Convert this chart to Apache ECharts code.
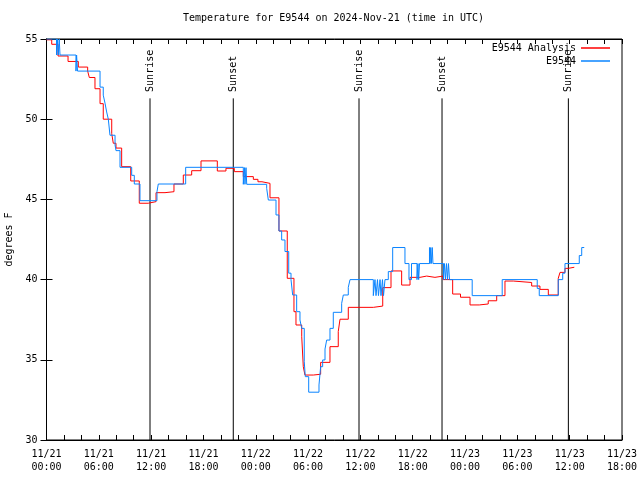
<!DOCTYPE html>
<html>
<head>
<meta charset="utf-8">
<script src="https://cdn.jsdelivr.net/npm/echarts@6/dist/echarts.min.js"></script>
<style>html,body{margin:0;padding:0;background:#fff}#c{width:640px;height:480px}</style>
</head>
<body>
<div id="c"></div>
<script>
// Hours since 2024-11-21 00:00 UTC, temperature in degrees F (step data)
const analysisData = [
  [0.00,54.95],[0.60,54.67],[1.32,53.94],[2.47,53.6],[3.65,53.25],[4.72,53.0],[4.91,52.6],[5.56,51.9],
  [6.14,50.97],[6.51,50.0],[7.48,49.1],[7.66,48.5],[7.97,48.2],[8.62,47.04],[9.66,46.15],[10.64,44.76],
  [11.67,44.86],[12.56,45.42],[13.59,45.48],[14.62,45.96],[15.69,46.52],[16.65,46.79],[17.72,47.4],
  [19.59,46.77],[20.58,46.94],[21.54,46.73],[22.57,46.42],[23.72,46.25],[24.25,46.1],[24.71,46.0],
  [25.63,45.1],[26.66,43.03],[27.61,40.08],[28.38,38.0],[28.61,37.17],[29.27,36.44],[29.45,34.57],
  [29.64,34.05],[30.60,34.1],[31.44,34.84],[32.51,35.82],[33.46,36.76],[33.66,37.53],[34.61,38.27],
  [37.48,38.35],[38.56,39.5],[39.51,40.54],[40.73,39.66],[41.69,40.14],[42.83,40.22],[43.60,40.14],
  [44.55,40.22],[45.47,40.0],[46.58,39.1],[47.48,38.9],[48.57,38.42],[49.63,38.48],[50.66,38.68],
  [51.63,39.0],[52.58,39.91],[53.53,39.82],[55.64,39.6],[56.59,39.39],[57.55,39.04],[58.69,40.08],
  [58.89,40.45],[59.46,40.7],[59.84,40.77],[60.53,40.77]
];
const observedData = [
  [0.00,55.0],[1.15,54.0],[1.24,55.0],[1.35,54.0],[1.46,55.0],[1.55,54.0],[3.38,53.0],[3.45,54.0],
  [3.56,53.0],[6.14,52.0],[6.51,51.5],[6.71,51.0],[6.90,50.45],[7.09,50.0],[7.28,49.0],[7.86,48.4],
  [7.97,48.04],[8.43,47.0],[9.77,46.5],[10.07,45.96],[10.72,44.92],[12.67,45.48],[12.82,45.96],
  [15.96,47.0],[22.57,45.94],[22.71,46.98],[22.76,45.94],[22.88,46.98],[22.96,45.94],[25.25,45.69],
  [25.44,44.96],[26.32,44.03],[26.66,43.03],[26.97,42.47],[27.35,41.75],[27.78,40.4],[28.04,40.0],
  [28.23,39.04],[28.69,38.0],[29.07,37.48],[29.27,36.96],[29.56,34.88],[29.68,33.95],[30.07,32.98],
  [31.25,33.43],[31.44,34.57],[31.67,34.99],[31.94,35.67],[32.13,36.23],[32.51,36.96],[32.89,37.96],
  [33.85,38.52],[34.04,39.04],[34.61,39.52],[34.81,40.0],[37.48,39.0],[37.67,40.0],[37.79,39.0],
  [37.96,40.0],[38.07,39.0],[38.25,40.0],[38.36,39.0],[38.53,40.0],[38.65,39.0],[38.82,40.0],
  [39.20,40.5],[39.70,42.0],[41.11,41.0],[41.57,40.0],[41.86,41.0],[42.49,40.0],[42.60,41.0],
  [42.68,40.0],[42.78,41.0],[43.92,42.0],[43.98,41.0],[44.06,42.0],[44.13,41.0],[44.24,42.0],
  [44.32,41.0],[45.53,40.0],[45.64,41.0],[45.76,40.0],[45.87,41.0],[45.99,40.0],[46.10,41.0],
  [46.22,40.0],[48.82,39.0],[52.26,40.0],[56.28,39.45],[56.51,39.0],[58.69,40.0],[59.20,40.4],
  [59.46,41.0],[61.10,41.5],[61.38,42.0],[61.67,42.0]
];
const sunEventHours = [11.87, 21.42, 35.84, 45.36, 59.85];
const sunEventNames = ['Sunrise', 'Sunset', 'Sunrise', 'Sunset', 'Sunrise'];
const sunLineTop = 51.3;
const yTicks = [30, 35, 40, 45, 50, 55];
const seriesNames = ['E9544 Analysis', 'E9544'];

const FONT = 'DejaVu Sans Mono';
function xLabel(v) {
  if (Math.abs(v % 6) > 1e-6) return '';
  const day = 21 + Math.floor(v / 24);
  const hh = v % 24;
  return '11/' + day + '\n' + (hh < 10 ? '0' : '') + hh + ':00';
}
const sunData = sunEventHours.map((h, i) => [h, sunEventNames[i]]);

const chart = echarts.init(document.getElementById('c'), null, {renderer: 'canvas'});
chart.setOption({
  animation: false,
  backgroundColor: '#ffffff',
  title: {
    text: 'Temperature for E9544 on 2024-Nov-21 (time in UTC)',
    left: 183, top: 13, padding: 0,
    textStyle: {fontFamily: FONT, fontSize: 10, fontWeight: 'normal', color: '#000'}
  },
  legend: {
    data: seriesNames,
    orient: 'vertical', align: 'right', right: 30, top: 43, padding: 0, itemGap: 3,
    icon: 'rect', itemWidth: 29, itemHeight: 1.5,
    textStyle: {fontFamily: FONT, fontSize: 10, color: '#000'}
  },
  grid: {left: 46.5, right: 18, top: 39, bottom: 40, containLabel: false, outerBoundsMode: 'none',
         show: true, borderColor: '#000', borderWidth: 1, backgroundColor: 'transparent'},
  xAxis: [{
    type: 'value', min: 0, max: 66, interval: 2, position: 'bottom',
    axisLine: {show: true, lineStyle: {color: '#000'}},
    axisTick: {show: true, inside: true, length: 5, lineStyle: {color: '#000'}},
    axisLabel: {formatter: xLabel, fontFamily: FONT, fontSize: 10, color: '#000', margin: 8, lineHeight: 13, showMinLabel: true, showMaxLabel: true, hideOverlap: false},
    splitLine: {show: false}
  }, {
    type: 'value', min: 0, max: 66, interval: 2, position: 'top',
    axisLine: {show: true, lineStyle: {color: '#000'}},
    axisTick: {show: true, inside: true, length: 5, lineStyle: {color: '#000'}},
    axisLabel: {show: false}, splitLine: {show: false}
  }],
  yAxis: [{
    type: 'value', min: yTicks[0], max: yTicks[yTicks.length - 1], interval: 5, position: 'left',
    name: 'degrees F', nameLocation: 'middle', nameRotate: 90, nameGap: 32,
    nameTextStyle: {fontFamily: FONT, fontSize: 10, color: '#000'},
    axisLine: {show: true, lineStyle: {color: '#000'}},
    axisTick: {show: true, inside: true, length: 6, lineStyle: {color: '#000'}},
    axisLabel: {fontFamily: FONT, fontSize: 10, color: '#000', margin: 9},
    splitLine: {show: false}
  }, {
    type: 'value', min: yTicks[0], max: yTicks[yTicks.length - 1], interval: 5, position: 'right',
    axisLine: {show: true, lineStyle: {color: '#000'}},
    axisTick: {show: true, inside: true, length: 6, lineStyle: {color: '#000'}},
    axisLabel: {show: false}, splitLine: {show: false}
  }],
  series: [{
    name: 'sun', type: 'custom', xAxisIndex: 0, yAxisIndex: 0, data: sunData, clip: false, silent: true,
    renderItem: function (params, api) {
      const h = api.value(0);
      const p0 = api.coord([h, 30]);
      const p1 = api.coord([h, sunLineTop]);
      const pt = api.coord([h, sunLineTop + 0.4]);
      return {
        type: 'group',
        children: [{
          type: 'line', shape: {x1: p0[0], y1: p0[1], x2: p1[0], y2: p1[1]},
          style: {stroke: '#000', lineWidth: 1}
        }, {
          type: 'text', x: pt[0] + 0.5, y: pt[1], rotation: Math.PI / 2,
          style: {text: sunEventNames[params.dataIndex], x: 0, y: 0, align: 'left', verticalAlign: 'middle',
                  font: '10px "DejaVu Sans Mono"', fill: '#000'}
        }]
      };
    }
  }, {
    name: seriesNames[0], type: 'line', step: 'end', data: analysisData, showSymbol: false, symbol: 'none',
    lineStyle: {color: '#ff0000', width: 1}, itemStyle: {color: '#ff0000'}, z: 3
  }, {
    name: seriesNames[1], type: 'line', step: 'end', data: observedData, showSymbol: false, symbol: 'none',
    lineStyle: {color: '#0a84ff', width: 1}, itemStyle: {color: '#0a84ff'}, z: 4
  }]
});
</script>
</body>
</html>
